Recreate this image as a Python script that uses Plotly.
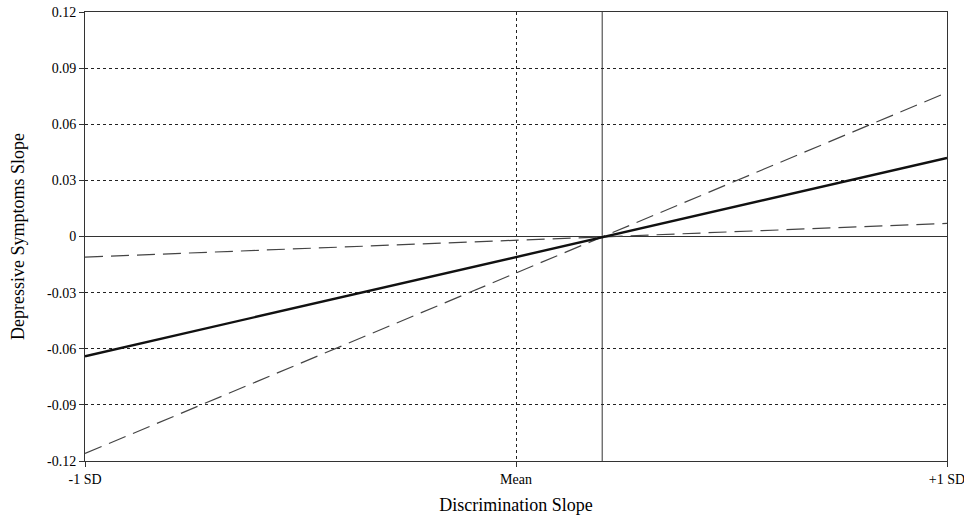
import plotly.graph_objects as go

x_pos = [-1, 1]
x_tick_vals = [-1, 0, 1]
x_tick_labels = ["-1 SD", "Mean", "+1 SD"]
y_tick_vals = [0.12, 0.09, 0.06, 0.03, 0, -0.03, -0.06, -0.09, -0.12]
y_tick_labels = ["0.12", "0.09", "0.06", "0.03", "0", "-0.03", "-0.06", "-0.09", "-0.12"]

mean_slope = [-0.064, 0.042]
high_slope = [-0.116, 0.077]
low_slope = [-0.011, 0.007]
crossing_x = 0.2

font = "Liberation Serif, Times New Roman, serif"

fig = go.Figure()
fig.add_trace(go.Scatter(x=x_pos, y=high_slope, mode="lines",
                         line=dict(color="#444444", width=1.2, dash="18px,8px"), showlegend=False))
fig.add_trace(go.Scatter(x=x_pos, y=low_slope, mode="lines",
                         line=dict(color="#444444", width=1.2, dash="18px,8px"), showlegend=False))
fig.add_trace(go.Scatter(x=x_pos, y=mean_slope, mode="lines",
                         line=dict(color="#111111", width=2.4), showlegend=False))

fig.add_shape(type="line", xref="x", yref="paper", x0=crossing_x, x1=crossing_x, y0=0, y1=1,
              line=dict(color="#333333", width=1), layer="below")

fig.update_layout(
    width=964, height=519,
    margin=dict(l=85, r=17, t=12, b=58),
    paper_bgcolor="white", plot_bgcolor="white",
    font=dict(family=font, color="black", size=14),
)
fig.update_xaxes(range=[-1, 1], tickvals=x_tick_vals, ticktext=x_tick_labels, automargin=False,
                 ticklabeloverflow="allow",
                 showgrid=True, gridcolor="#222222", griddash="dot", gridwidth=1,
                 zeroline=False, showline=True, linecolor="#333333", linewidth=1, mirror=True,
                 ticks="outside", ticklen=5, tickcolor="#333333", tickfont=dict(size=14, color="black"),
                 title=dict(text="Discrimination Slope", font=dict(size=18, family=font, color="black"), standoff=12))
fig.update_yaxes(range=[-0.12, 0.12], tickvals=y_tick_vals, ticktext=y_tick_labels, automargin=False,
                 ticklabeloverflow="allow",
                 showgrid=True, gridcolor="#222222", griddash="dot", gridwidth=1,
                 zeroline=True, zerolinecolor="#333333", zerolinewidth=1,
                 showline=True, linecolor="#333333", linewidth=1, mirror=True,
                 ticks="outside", ticklen=5, tickcolor="#333333", tickfont=dict(size=14, color="black"),
                 title=dict(text="Depressive Symptoms Slope", font=dict(size=18, family=font, color="black"), standoff=17))

fig.write_html("out.html",
               config={"displayModeBar": False},
               post_script="document.body.style.margin='0';document.body.style.overflow='hidden';")
